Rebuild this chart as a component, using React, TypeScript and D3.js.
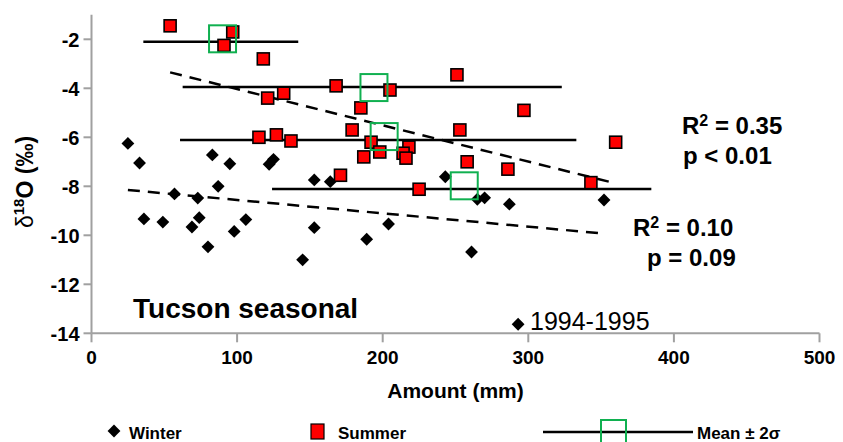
import React from "react";
import * as d3 from "d3";

// ---- data ----
const summerX = [54, 97, 91, 118, 121, 132, 168, 115, 127, 137, 205, 251, 185, 297, 179, 253, 192, 198, 187, 218, 214, 216, 258, 286, 171, 225, 343, 360];
const summerY = [-1.45, -1.7, -2.25, -2.8, -4.4, -4.2, -3.9, -6.0, -5.9, -6.15, -4.07, -3.45, -4.8, -4.9, -5.7, -5.7, -6.2, -6.6, -6.8, -6.4, -6.65, -6.85, -7.0, -7.3, -7.55, -8.12, -7.85, -6.2];

const winterX = [25, 33, 83, 95, 122, 125, 36, 49, 57, 73, 87, 74, 69, 80, 98, 106, 153, 145, 153, 164, 243, 265, 270, 287, 204, 189, 261, 293, 352];
const winterY = [-6.25, -7.05, -6.72, -7.08, -7.1, -6.9, -9.33, -9.46, -8.31, -8.48, -8.0, -9.28, -9.66, -10.47, -9.84, -9.36, -9.69, -11.0, -7.74, -7.81, -7.61, -8.53, -8.47, -8.73, -9.54, -10.16, -10.68, -13.63, -8.56];

// mean ± 2σ groups
const meanX = [90, 194, 201, 256];
const meanY = [-1.98, -3.97, -5.97, -7.98];
const barY = [-2.1, -3.95, -6.11, -8.11];
const barLo = [35.6, 62.6, 60.8, 124];
const barHi = [142, 323, 333, 384.5];

// regression lines (endpoints)
const summerFitX = [54, 360];
const summerFitY = [-3.35, -7.88];
const winterFitX = [25, 350];
const winterFitY = [-8.15, -9.92];

const xTicks = [0, 100, 200, 300, 400, 500];
const yTicks = [-2, -4, -6, -8, -10, -12, -14];

const FONT = "'Liberation Sans', Arial, Helvetica, sans-serif";

export default function App() {
  const W = 843, H = 442;
  const x = d3.scaleLinear().domain([0, 500]).range([91.5, 819.5]);
  const y = d3.scaleLinear().domain([-14, -2]).range([333.3, 39.3]);
  const yTop = y(-1);
  const line = d3.line<[number, number]>().x(d => x(d[0])).y(d => y(d[1]));
  const diamond = d3.symbol().type(d3.symbolDiamond2).size(105)();
  const sq = 12;
  const box = 27;
  const green = "#10b050";
  const axisCol = "#a0a0a0";

  return (
    <svg width={W} height={H} style={{ position: "absolute", left: 0, top: 0, background: "#fff" }} fontFamily={FONT}>
      {/* axes */}
      <line x1={x(0)} x2={x(0)} y1={yTop} y2={y(-14)} stroke={axisCol} strokeWidth={2} />
      <line x1={x(0)} x2={x(500)} y1={y(-14)} y2={y(-14)} stroke={axisCol} strokeWidth={2} />
      {yTicks.map(t => (
        <g key={"yt" + t}>
          <line x1={x(0) - 8} x2={x(0)} y1={y(t)} y2={y(t)} stroke={axisCol} strokeWidth={2} />
          <text x={x(0) - 12} y={y(t)} dy="0.36em" textAnchor="end" fontSize={20} fontWeight="bold">{t}</text>
        </g>
      ))}
      {xTicks.map(t => (
        <g key={"xt" + t}>
          <line x1={x(t)} x2={x(t)} y1={y(-14)} y2={y(-14) + 9} stroke={axisCol} strokeWidth={2} />
          <text x={x(t)} y={364} textAnchor="middle" fontSize={19} fontWeight="bold">{t}</text>
        </g>
      ))}
      <text x={(x(0) + x(500)) / 2} y={398} textAnchor="middle" fontSize={21} fontWeight="bold">Amount (mm)</text>
      <text transform={`translate(33,182) rotate(-90)`} textAnchor="middle" fontSize={23} fontWeight="bold">
        <tspan fontWeight="normal">δ</tspan>
        <tspan fontSize={15} dy={-9}>18</tspan>
        <tspan dy={9}>O (‰)</tspan>
      </text>

      {/* mean ± 2σ bars */}
      {barY.map((b, i) => (
        <line key={"bar" + i} x1={x(barLo[i])} x2={x(barHi[i])} y1={y(b)} y2={y(b)} stroke="#000" strokeWidth={2.5} />
      ))}

      {/* regression lines */}
      <path d={line([[summerFitX[0], summerFitY[0]], [summerFitX[1], summerFitY[1]]]) || ""} stroke="#000" strokeWidth={2.5} strokeDasharray="12 8" fill="none" />
      <path d={line([[winterFitX[0], winterFitY[0]], [winterFitX[1], winterFitY[1]]]) || ""} stroke="#000" strokeWidth={2.5} strokeDasharray="12 8" fill="none" />

      {/* winter diamonds */}
      {winterX.map((v, i) => (
        <path key={"w" + i} d={diamond || ""} transform={`translate(${x(v)},${y(winterY[i])})`} fill="#000" />
      ))}
      {/* summer squares */}
      {summerX.map((v, i) => (
        <rect key={"s" + i} x={x(v) - sq / 2} y={y(summerY[i]) - sq / 2} width={sq} height={sq} fill="#ff0000" stroke="#000" strokeWidth={1.6} />
      ))}
      {/* mean boxes */}
      {meanX.map((v, i) => (
        <rect key={"m" + i} x={x(v) - box / 2} y={y(meanY[i]) - box / 2} width={box} height={box} fill="none" stroke={green} strokeWidth={2} />
      ))}

      {/* annotations */}
      <text x={682} y={134} fontSize={24} fontWeight="bold">R<tspan fontSize={16} dy={-8}>2</tspan><tspan dy={8}> = 0.35</tspan></text>
      <text x={683} y={164} fontSize={24} fontWeight="bold">p &lt; 0.01</text>
      <text x={633} y={235.5} fontSize={24} fontWeight="bold">R<tspan fontSize={16} dy={-8}>2</tspan><tspan dy={8}> = 0.10</tspan></text>
      <text x={647} y={266} fontSize={24} fontWeight="bold">p = 0.09</text>
      <text x={133} y={317.5} fontSize={28} fontWeight="bold">Tucson seasonal</text>
      <text x={530} y={330} fontSize={25}>1994-1995</text>

      {/* legend */}
      <path d={diamond || ""} transform={`translate(114,431)`} fill="#000" />
      <text x={129} y={439} fontSize={17} fontWeight="bold">Winter</text>
      <rect x={311} y={424} width={13} height={15} fill="#ff0000" stroke="#000" strokeWidth={1.2} />
      <text x={338} y={439} fontSize={17} fontWeight="bold">Summer</text>
      <line x1={543} x2={693} y1={432} y2={432} stroke="#000" strokeWidth={2.5} />
      <rect x={601} y={420} width={25} height={30} fill="none" stroke={green} strokeWidth={2} />
      <text x={697} y={439} fontSize={17} fontWeight="bold">Mean ± 2σ</text>
    </svg>
  );
}
